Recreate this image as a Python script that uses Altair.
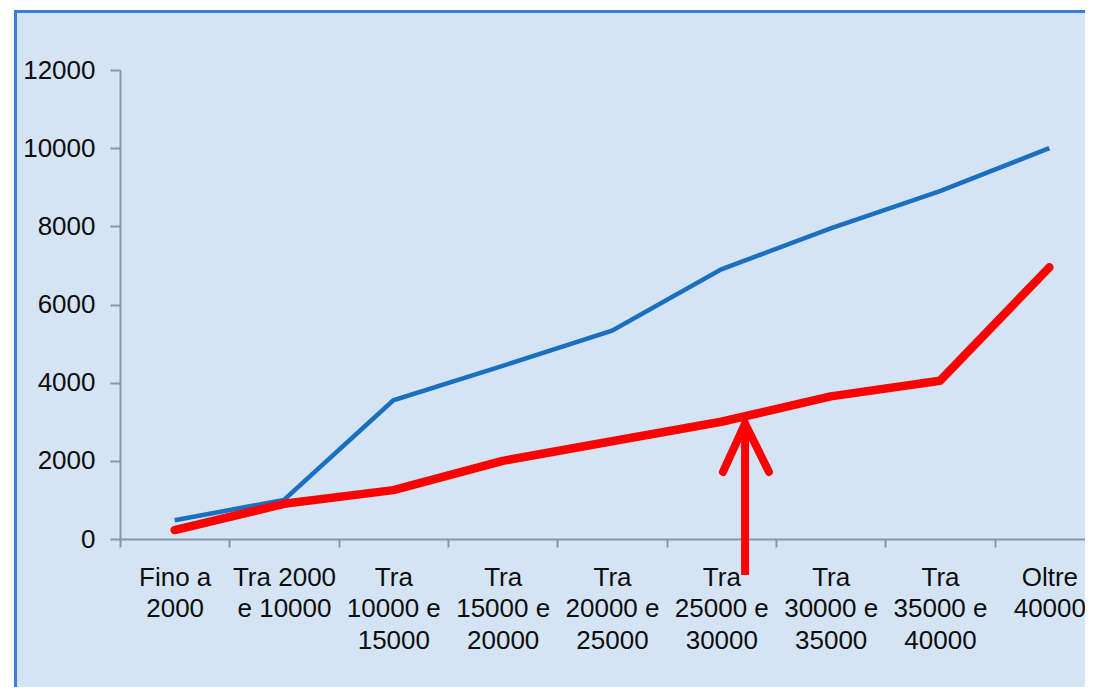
import altair as alt
import pandas as pd

categories = [
    "Fino a\n2000", "Tra 2000\ne 10000", "Tra\n10000 e\n15000", "Tra\n15000 e\n20000",
    "Tra\n20000 e\n25000", "Tra\n25000 e\n30000", "Tra\n30000 e\n35000",
    "Tra\n35000 e\n40000", "Oltre\n40000",
]
blue_values = [480, 1000, 3550, 4430, 5330, 6900, 7950, 8900, 10000]
red_values = [230, 900, 1250, 2000, 2500, 3000, 3650, 4050, 6950]
y_ticks = [0, 2000, 4000, 6000, 8000, 10000, 12000]

# arrow annotation, in category-index units (x) and value units (y)
arrow_shaft_x = [5.717, 5.717]
arrow_shaft_y = [-920, 2900]
arrow_head_x = [5.515, 5.717, 5.936]
arrow_head_y = [1715, 2955, 1715]

BG = "#d5e4f5"
FRAME = "#3a7fd6"
AXIS_GRAY = "#8a96a2"
FONT = "Liberation Sans"

blue_df = pd.DataFrame({"cat": categories, "value": blue_values})
red_df = pd.DataFrame({"cat": categories, "value": red_values})
shaft_df = pd.DataFrame({"x": arrow_shaft_x, "y": arrow_shaft_y, "o": [0, 1]})
head_df = pd.DataFrame({"x": arrow_head_x, "y": arrow_head_y, "o": [0, 1, 2]})
one_df = pd.DataFrame({"k": [0]})

x_scale = alt.Scale(type="band", domain=categories, range=[0, 984], paddingInner=0, paddingOuter=0)
y_scale = alt.Scale(domain=[0, 12000], nice=False, zero=True)

x_axis = alt.Axis(
    title=None, labelAngle=0, tickBand="extent", tickSize=8, tickWidth=2, tickColor=AXIS_GRAY,
    domainColor=AXIS_GRAY, domainWidth=2, labelFont=FONT, labelFontSize=26, labelColor="#0d0d0d",
    labelExpr="split(datum.label, '\\n')", labelLineHeight=31.5, labelPadding=17, labelLimit=300,
)
y_axis = alt.Axis(
    title=None, values=y_ticks, format="d", tickSize=10, tickWidth=2, tickColor=AXIS_GRAY,
    domainColor=AXIS_GRAY, domainWidth=2, labelFont=FONT, labelFontSize=26, labelColor="#0d0d0d",
    labelPadding=15, grid=False,
)

# decorative frame: white page strip and blue border
white_strip = alt.Chart(one_df).mark_rect(color="white").encode(
    x=alt.value(-112), x2=alt.value(-106), y=alt.value(-62), y2=alt.value(700)
)
white_top = alt.Chart(one_df).mark_rect(color="white").encode(
    x=alt.value(-112), x2=alt.value(1000), y=alt.value(-62), y2=alt.value(-60)
)
frame_v = alt.Chart(one_df).mark_rule(color=FRAME, strokeWidth=3).encode(
    x=alt.value(-104.5), y=alt.value(-59.5), y2=alt.value(700)
)
frame_h = alt.Chart(one_df).mark_rule(color=FRAME, strokeWidth=3).encode(
    x=alt.value(-106), x2=alt.value(1000), y=alt.value(-58.5)
)

blue = alt.Chart(blue_df).mark_line(color="#1a6fc1", strokeWidth=4.5, strokeJoin="miter").encode(
    x=alt.X("cat:N", sort=categories, scale=x_scale, axis=x_axis, bandPosition=0.5),
    y=alt.Y("value:Q", scale=y_scale, axis=y_axis),
)
red = alt.Chart(red_df).mark_line(color="#ff0000", strokeWidth=8.5, strokeCap="round", strokeJoin="round").encode(
    x=alt.X("cat:N", sort=categories, scale=x_scale, axis=None, bandPosition=0.5),
    y=alt.Y("value:Q", scale=y_scale, axis=y_axis),
)

ax_scale = alt.Scale(domain=[0, 9], range=[0, 984], nice=False, zero=False)
shaft = alt.Chart(shaft_df).mark_line(color="#ff0000", strokeWidth=8, strokeCap="butt").encode(
    x=alt.X("x:Q", scale=ax_scale, axis=None),
    y=alt.Y("y:Q", scale=y_scale, axis=y_axis),
    order="o:Q",
)
head = alt.Chart(head_df).mark_line(color="#ff0000", strokeWidth=8, strokeCap="round", strokeJoin="miter").encode(
    x=alt.X("x:Q", scale=ax_scale, axis=None),
    y=alt.Y("y:Q", scale=y_scale, axis=y_axis),
    order="o:Q",
)

chart = (
    alt.layer(white_strip, white_top, frame_v, frame_h, blue, red, shaft, head)
    .resolve_scale(x="independent")
    .properties(
        width=965, height=469,
        autosize=alt.AutoSizeParams(type="none"),
        padding={"left": 112, "top": 62, "right": 0, "bottom": 148},
        background=BG,
    )
    .configure_view(stroke=None)
)

chart.save("out.html", embed_options={"renderer": "svg", "actions": False})
